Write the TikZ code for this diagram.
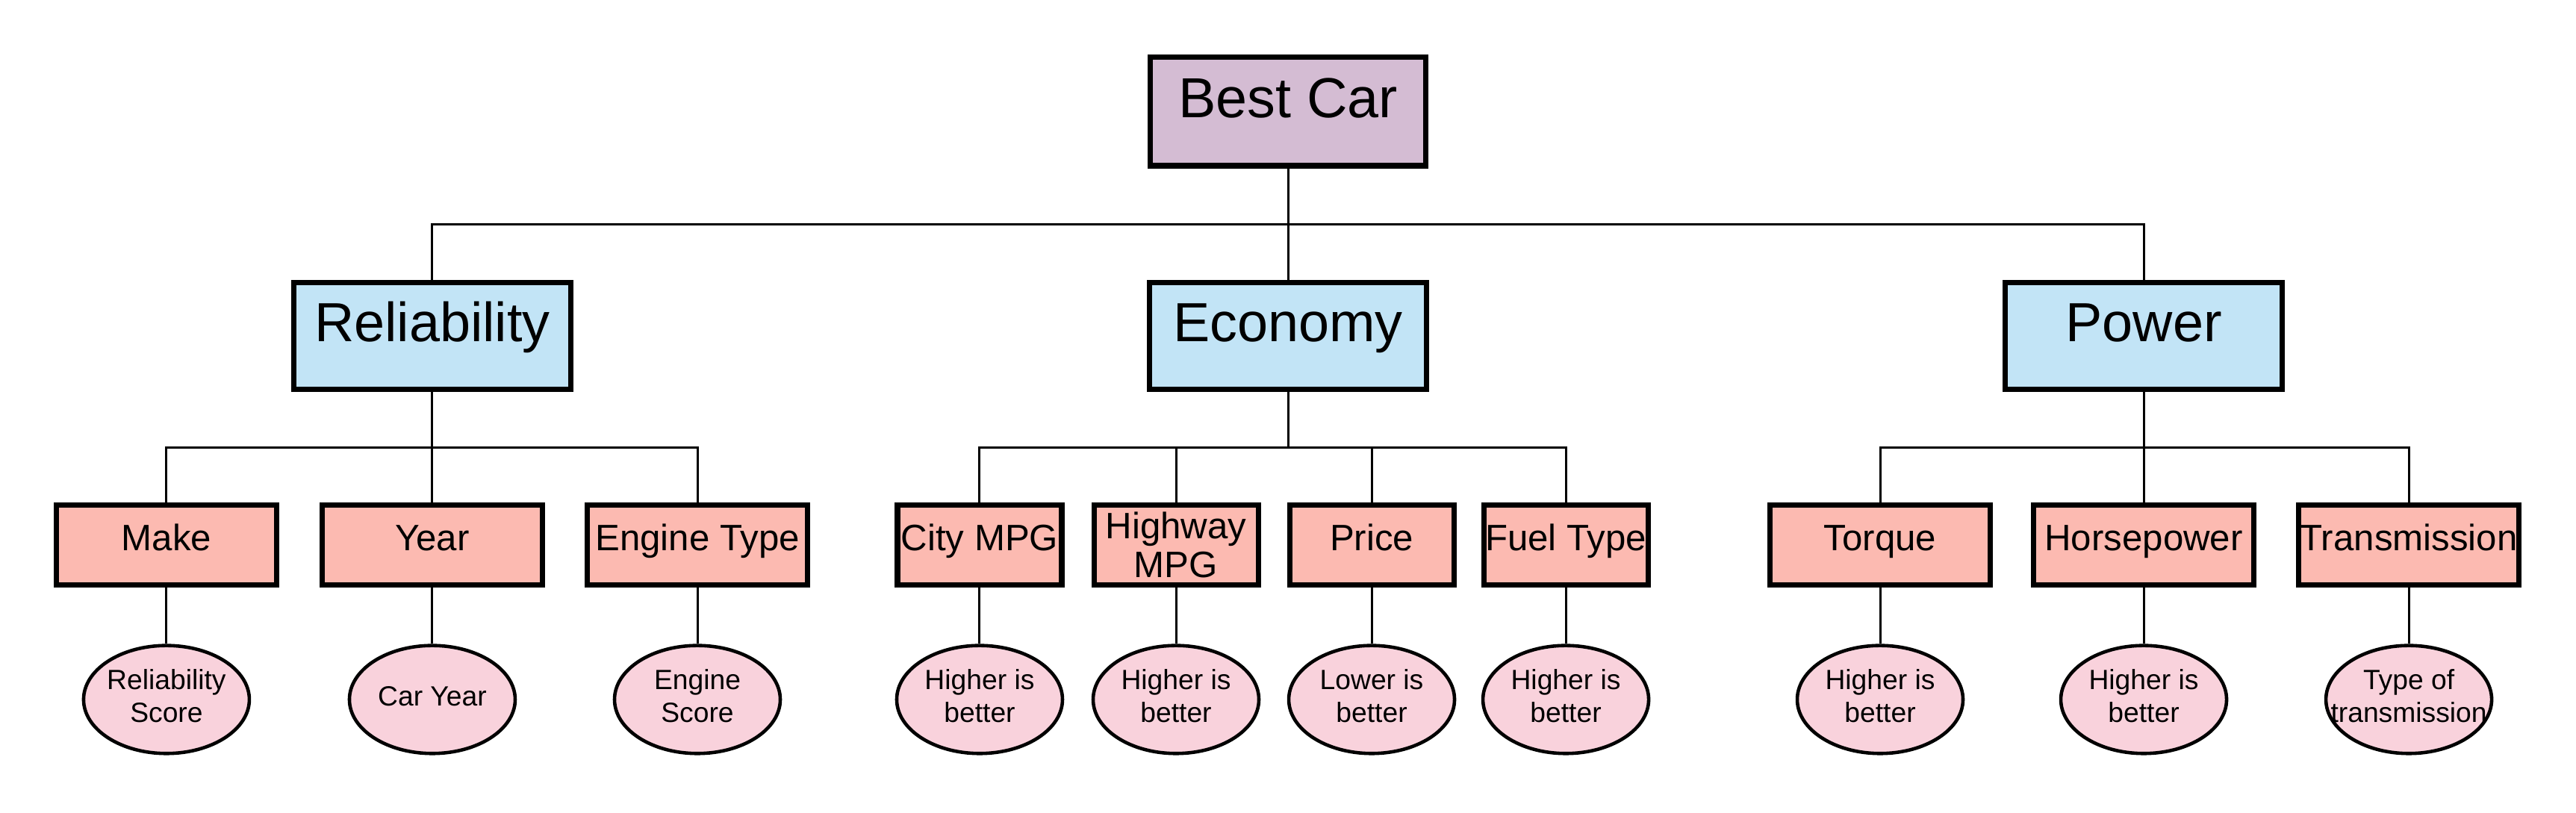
\documentclass[tikz,border=0pt]{standalone}
\usepackage{fontspec}
\setmainfont{Liberation Sans}
\usetikzlibrary{positioning}
\usetikzlibrary{shapes.geometric}

\definecolor{goalfill}{HTML}{D4BCD3}
\definecolor{critfill}{HTML}{C2E4F6}
\definecolor{subfill}{HTML}{FCBAB1}
\definecolor{notefill}{HTML}{F9D2DC}

\newcommand{\notetext}[1]{\smash{\makebox[0pt]{\raisebox{-0.25em}{\begin{tabular}{@{}c@{}}#1\end{tabular}}}}}

\begin{document}
\begin{tikzpicture}[
    goal/.style={draw, line width=2pt, fill=goalfill, minimum width=3.69cm, minimum height=1.456cm, inner sep=0pt, text height=0.7em, text depth=0.25em, font=\fontsize{21.5}{24}\selectfont},
    crit/.style={draw, line width=2pt, fill=critfill, minimum width=3.71cm, minimum height=1.436cm, inner sep=0pt, text height=0.7em, text depth=0.27em, font=\fontsize{21}{24}\selectfont},
    sub/.style={draw, line width=2pt, fill=subfill, minimum width=2.95cm, minimum height=1.075cm, inner sep=0pt, text height=0.7em, text depth=0.27em, align=center, font=\fontsize{14}{14.8}\selectfont},
    subn/.style={sub, minimum width=2.2cm},
    subtwo/.style={subn, text height=, text depth=},
    note/.style={ellipse, draw, line width=1.3pt, fill=notefill, minimum width=2.22cm, minimum height=1.446cm, inner sep=0pt, font=\fontsize{10.6}{12.4}\selectfont},
    link/.style={line width=0.85pt}
  ]
  \useasboundingbox (0,0) rectangle (34.5,-10.88);

  \node [goal] (goal) at (17.25,-1.492) {Best Car};
  \node [crit, below=1.49cm of goal] (c2) {Economy};
  \node [crit, left=7.68cm of c2] (c1) {Reliability};
  \node [crit, right=7.68cm of c2] (c3) {Power};

  \node [sub, below=1.477cm of c1] (s2) {Year};
  \node [sub, left=0.54cm of s2] (s1) {Make};
  \node [sub, right=0.53cm of s2] (s3) {Engine Type};

  \node [subtwo, below=1.477cm of c2, xshift=-1.5cm] (s5) {Highway\\MPG};
  \node [subn, left=0.36cm of s5] (s4) {City MPG};
  \node [subn, right=0.35cm of s5] (s6) {Price};
  \node [subn, right=0.33cm of s6] (s7) {Fuel Type};

  \node [sub, below=1.477cm of c3] (s9) {Horsepower};
  \node [sub, left=0.51cm of s9] (s8) {Torque};
  \node [sub, right=0.53cm of s9] (s10) {Transmission};

  \node [note, below=0.75cm of s1] (n1) {\notetext{Reliability\\Score}};
  \node [note, below=0.75cm of s2] (n2) {\notetext{Car Year}};
  \node [note, below=0.75cm of s3] (n3) {\notetext{Engine\\Score}};
  \node [note, below=0.75cm of s4] (n4) {\notetext{Higher is\\better}};
  \node [note, below=0.75cm of s5] (n5) {\notetext{Higher is\\better}};
  \node [note, below=0.75cm of s6] (n6) {\notetext{Lower is\\better}};
  \node [note, below=0.75cm of s7] (n7) {\notetext{Higher is\\better}};
  \node [note, below=0.75cm of s8] (n8) {\notetext{Higher is\\better}};
  \node [note, below=0.75cm of s9] (n9) {\notetext{Higher is\\better}};
  \node [note, below=0.75cm of s10] (n10) {\notetext{Type of\\transmission}};

  \draw [link] (goal) -- (c2);
  \draw [link] (goal.south) -- ++(0,-0.746) -| (c1.north);
  \draw [link] (goal.south) -- ++(0,-0.746) -| (c3.north);

  \draw [link] (c1) -- (s2);
  \draw [link] (c1.south) -- ++(0,-0.74) -| (s1.north);
  \draw [link] (c1.south) -- ++(0,-0.74) -| (s3.north);

  \draw [link] (c2.south) -- ++(0,-0.74) -| (s4.north);
  \draw [link] (c2.south) -- ++(0,-0.74) -| (s5.north);
  \draw [link] (c2.south) -- ++(0,-0.74) -| (s6.north);
  \draw [link] (c2.south) -- ++(0,-0.74) -| (s7.north);

  \draw [link] (c3) -- (s9);
  \draw [link] (c3.south) -- ++(0,-0.74) -| (s8.north);
  \draw [link] (c3.south) -- ++(0,-0.74) -| (s10.north);

  \draw [link] (s1) -- (n1);
  \draw [link] (s2) -- (n2);
  \draw [link] (s3) -- (n3);
  \draw [link] (s4) -- (n4);
  \draw [link] (s5) -- (n5);
  \draw [link] (s6) -- (n6);
  \draw [link] (s7) -- (n7);
  \draw [link] (s8) -- (n8);
  \draw [link] (s9) -- (n9);
  \draw [link] (s10) -- (n10);
\end{tikzpicture}
\end{document}
